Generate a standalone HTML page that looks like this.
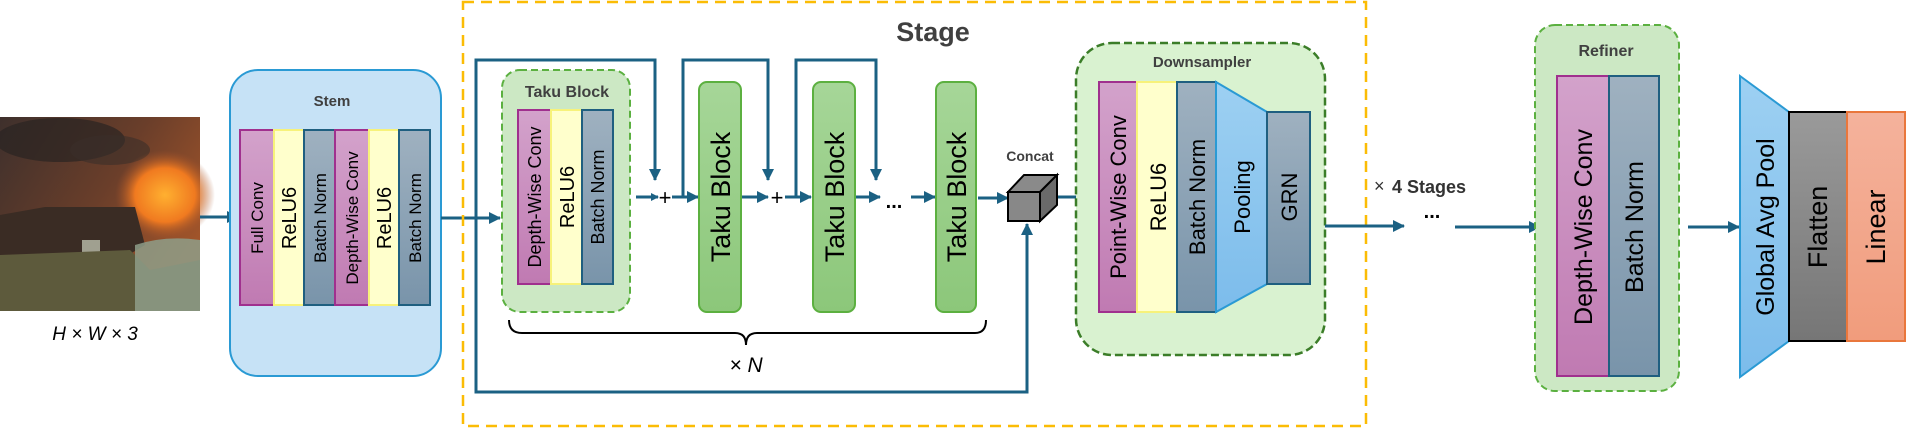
<!DOCTYPE html>
<html><head><meta charset="utf-8"><style>
html,body{margin:0;padding:0;background:#fff;}
svg{display:block;}
text{font-family:"Liberation Sans",sans-serif;}
.t{font-weight:bold;fill:#404040;}
</style></head><body>
<svg width="1908" height="430" viewBox="0 0 1908 430" xmlns="http://www.w3.org/2000/svg">
<defs>
<linearGradient id="pk" x1="0" y1="0" x2="0" y2="1"><stop offset="0" stop-color="#d3a2cb"/><stop offset="1" stop-color="#c07ab2"/></linearGradient>
<linearGradient id="bn" x1="0" y1="0" x2="0" y2="1"><stop offset="0" stop-color="#9fb1c0"/><stop offset="1" stop-color="#7994aa"/></linearGradient>
<linearGradient id="gr" x1="0" y1="0" x2="0" y2="1"><stop offset="0" stop-color="#a6d698"/><stop offset="1" stop-color="#8cc77a"/></linearGradient>
<linearGradient id="pl" x1="0" y1="0" x2="0" y2="1"><stop offset="0" stop-color="#9dd0f2"/><stop offset="1" stop-color="#7cbceb"/></linearGradient>
<linearGradient id="fl" x1="0" y1="0" x2="0" y2="1"><stop offset="0" stop-color="#9a9a9a"/><stop offset="1" stop-color="#767676"/></linearGradient>
<linearGradient id="ln" x1="0" y1="0" x2="0" y2="1"><stop offset="0" stop-color="#f4b29c"/><stop offset="1" stop-color="#f19c7c"/></linearGradient>
<linearGradient id="sky" x1="0" y1="0" x2="1" y2="0.6"><stop offset="0" stop-color="#3e302c"/><stop offset="0.55" stop-color="#6a3e2a"/><stop offset="1" stop-color="#a0542a"/></linearGradient>
<radialGradient id="fire" cx="0.5" cy="0.5" r="0.5"><stop offset="0" stop-color="#ffb030"/><stop offset="0.6" stop-color="#f07a20"/><stop offset="1" stop-color="#a0502a" stop-opacity="0"/></radialGradient>
<marker id="ar" markerWidth="8" markerHeight="8" refX="7" refY="4" orient="auto" markerUnits="userSpaceOnUse"><path d="M0,0 L8,4 L0,8 z" fill="#1b6183"/></marker>
<marker id="ar2" markerWidth="12" markerHeight="12" refX="11" refY="6" orient="auto" markerUnits="userSpaceOnUse"><path d="M0,0 L12,6 L0,12 z" fill="#1b6183"/></marker>
</defs>

<!-- photo -->
<rect x="0" y="117" width="200" height="194" fill="url(#sky)"/>
<ellipse cx="60" cy="140" rx="65" ry="22" fill="#2a2422" opacity="0.7"/>
<ellipse cx="110" cy="150" rx="40" ry="15" fill="#3a2e2a" opacity="0.6"/>
<ellipse cx="165" cy="195" rx="50" ry="45" fill="url(#fire)"/>
<path d="M0,215 L45,207 L135,207 L145,245 L120,260 L0,255 z" fill="#3a2c24"/>
<rect x="82" y="240" width="18" height="13" fill="#a0a090"/>
<path d="M0,255 L130,250 L150,270 L200,260 L200,311 L0,311 z" fill="#5d5a3c"/>
<path d="M135,245 Q165,235 200,240 L200,311 L135,311 z" fill="#8e9e88" opacity="0.85"/>
<text x="95" y="340" font-family="Liberation Serif" font-style="italic" font-size="19" text-anchor="middle" fill="#000">H × W × 3</text>
<line x1="200" y1="217" x2="238" y2="217" stroke="#1b6183" stroke-width="3" marker-end="url(#ar2)"/>

<!-- Stem -->
<rect x="230" y="70" width="211" height="306" rx="28" fill="#c6e2f6" stroke="#2a9ad4" stroke-width="2"/>
<text class="t" x="332" y="106" font-size="15" text-anchor="middle">Stem</text>
<rect x="240" y="130" width="34" height="175" fill="url(#pk)" stroke="#a0308e" stroke-width="2"/>
<rect x="274" y="130" width="30" height="175" fill="#ffffcc" stroke="#f7f27a" stroke-width="2"/>
<rect x="304" y="130" width="31" height="175" fill="url(#bn)" stroke="#1f5f80" stroke-width="2"/>
<rect x="335" y="130" width="34" height="175" fill="url(#pk)" stroke="#a0308e" stroke-width="2"/>
<rect x="369" y="130" width="30" height="175" fill="#ffffcc" stroke="#f7f27a" stroke-width="2"/>
<rect x="399" y="130" width="31" height="175" fill="url(#bn)" stroke="#1f5f80" stroke-width="2"/>
<g font-size="17" fill="#000" text-anchor="middle">
<text transform="translate(263,218) rotate(-90)">Full Conv</text>
<text transform="translate(296,218) rotate(-90)" font-size="20">ReLU6</text>
<text transform="translate(326,218) rotate(-90)">Batch Norm</text>
<text transform="translate(358,218) rotate(-90)">Depth-Wise Conv</text>
<text transform="translate(391,218) rotate(-90)" font-size="20">ReLU6</text>
<text transform="translate(421,218) rotate(-90)">Batch Norm</text>
</g>
<line x1="441" y1="218" x2="500" y2="218" stroke="#1b6183" stroke-width="3" marker-end="url(#ar2)"/>

<!-- Stage box -->
<rect x="463" y="2" width="903" height="424" fill="none" stroke="#fbbc05" stroke-width="2.5" stroke-dasharray="11,7"/>
<text class="t" x="933" y="41" font-size="27" text-anchor="middle">Stage</text>

<!-- skips -->
<g stroke="#1b6183" stroke-width="3" fill="none">
<path d="M476,218 L476,60 L655,60 L655,180" marker-end="url(#ar2)"/>
<path d="M683,197 L683,60 L768,60 L768,180" marker-end="url(#ar2)"/>
<path d="M796,197 L796,60 L876,60 L876,180" marker-end="url(#ar2)"/>
<path d="M476,218 L476,392 L1027,392 L1027,224" marker-end="url(#ar2)"/>
<line x1="636" y1="197" x2="658" y2="197" marker-end="url(#ar)"/>
<line x1="672" y1="197" x2="698" y2="197" marker-end="url(#ar2)"/>
<line x1="741" y1="197" x2="768" y2="197" marker-end="url(#ar2)"/>
<line x1="785" y1="197" x2="811" y2="197" marker-end="url(#ar2)"/>
<line x1="855" y1="197" x2="880" y2="197" marker-end="url(#ar2)"/>
<line x1="911" y1="197" x2="935" y2="197" marker-end="url(#ar2)"/>
<line x1="978" y1="198" x2="1008" y2="198" marker-end="url(#ar2)"/>
<line x1="1057" y1="197" x2="1098" y2="197" marker-end="url(#ar2)"/>
</g>
<g font-size="22" fill="#000" text-anchor="middle" font-family="Liberation Serif">
<text x="665" y="205">+</text>
<text x="777" y="205">+</text>
</g>
<text x="894" y="208" font-size="20" text-anchor="middle" font-weight="bold">...</text>

<!-- Taku block detail -->
<rect x="502" y="70" width="128" height="242" rx="18" fill="#cce8c4" stroke="#5bb040" stroke-width="2" stroke-dasharray="7,4"/>
<text class="t" x="567" y="97" font-size="16" text-anchor="middle">Taku Block</text>
<rect x="518" y="110" width="33" height="174" fill="url(#pk)" stroke="#a0308e" stroke-width="2"/>
<rect x="551" y="110" width="31" height="174" fill="#ffffcc" stroke="#f7f27a" stroke-width="2"/>
<rect x="582" y="110" width="31" height="174" fill="url(#bn)" stroke="#1f5f80" stroke-width="2"/>
<g font-size="18" fill="#000" text-anchor="middle">
<text transform="translate(541,197) rotate(-90)">Depth-Wise Conv</text>
<text transform="translate(574,197) rotate(-90)" font-size="20">ReLU6</text>
<text transform="translate(604,197) rotate(-90)">Batch Norm</text>
</g>

<!-- Taku blocks -->
<rect x="699" y="82" width="42" height="230" rx="8" fill="url(#gr)" stroke="#5cb040" stroke-width="2"/>
<rect x="813" y="82" width="42" height="230" rx="8" fill="url(#gr)" stroke="#5cb040" stroke-width="2"/>
<rect x="936" y="82" width="40" height="230" rx="8" fill="url(#gr)" stroke="#5cb040" stroke-width="2"/>
<g font-size="27" fill="#000" text-anchor="middle">
<text transform="translate(730,197) rotate(-90)">Taku Block</text>
<text transform="translate(844,197) rotate(-90)">Taku Block</text>
<text transform="translate(966,197) rotate(-90)">Taku Block</text>
</g>

<!-- brace -->
<path d="M509,320 Q509,333 522,333 L735,333 Q746,333 746,345 Q746,333 757,333 L975,333 Q986,333 986,320" fill="none" stroke="#000" stroke-width="2"/>
<text x="746" y="372" font-family="Liberation Serif" font-style="italic" font-size="21" text-anchor="middle">× N</text>

<!-- Concat cube -->
<text class="t" x="1030" y="161" font-size="14" text-anchor="middle">Concat</text>
<path d="M1024,175 L1057,175 L1057,205 L1040,221" fill="#666" stroke="#000" stroke-width="1.5" stroke-dasharray="3,2"/>
<path d="M1008,192 L1024,175 L1057,175 L1040,192 z" fill="#8a8a8a" stroke="#000" stroke-width="2"/>
<path d="M1040,192 L1057,175 L1057,205 L1040,221 z" fill="#6a6a6a" stroke="#000" stroke-width="2"/>
<rect x="1008" y="192" width="32" height="29" fill="#888" stroke="#000" stroke-width="2"/>

<!-- Downsampler -->
<rect x="1076" y="43" width="249" height="312" rx="36" fill="#d9f2d0" stroke="#3b7d28" stroke-width="2.5" stroke-dasharray="8,4"/>
<text class="t" x="1202" y="67" font-size="15" text-anchor="middle">Downsampler</text>
<rect x="1099" y="82" width="38" height="230" fill="url(#pk)" stroke="#a0308e" stroke-width="2"/>
<rect x="1137" y="82" width="40" height="230" fill="#ffffcc" stroke="#f7f27a" stroke-width="2"/>
<rect x="1177" y="82" width="39" height="230" fill="url(#bn)" stroke="#1f5f80" stroke-width="2"/>
<path d="M1216,82 L1267,112 L1267,284 L1216,312 z" fill="url(#pl)" stroke="#2a9ad4" stroke-width="2"/>
<rect x="1267" y="112" width="43" height="172" fill="url(#bn)" stroke="#1f5f80" stroke-width="2"/>
<g font-size="22" fill="#000" text-anchor="middle">
<text transform="translate(1126,197) rotate(-90)">Point-Wise Conv</text>
<text transform="translate(1166,197) rotate(-90)">ReLU6</text>
<text transform="translate(1205,197) rotate(-90)">Batch Norm</text>
<text transform="translate(1250,197) rotate(-90)">Pooling</text>
<text transform="translate(1297,197) rotate(-90)">GRN</text>
</g>

<!-- x4 stages -->
<text x="1374" y="192" font-size="18" fill="#333" font-family="Liberation Serif">×</text>
<text x="1392" y="193" font-size="18" fill="#333" font-weight="bold">4 Stages</text>
<line x1="1325" y1="226" x2="1404" y2="226" stroke="#1b6183" stroke-width="3" marker-end="url(#ar2)"/>
<text x="1432" y="218" font-size="20" text-anchor="middle" font-weight="bold">...</text>
<line x1="1455" y1="227" x2="1540" y2="227" stroke="#1b6183" stroke-width="3" marker-end="url(#ar2)"/>

<!-- Refiner -->
<rect x="1535" y="25" width="144" height="366" rx="20" fill="#cce8c4" stroke="#5bb040" stroke-width="2" stroke-dasharray="7,4"/>
<text class="t" x="1606" y="56" font-size="16" text-anchor="middle">Refiner</text>
<rect x="1557" y="76" width="52" height="300" fill="url(#pk)" stroke="#a0308e" stroke-width="2"/>
<rect x="1609" y="76" width="50" height="300" fill="url(#bn)" stroke="#1f5f80" stroke-width="2"/>
<g font-size="25" fill="#000" text-anchor="middle">
<text transform="translate(1592,227) rotate(-90)">Depth-Wise Conv</text>
<text transform="translate(1643,227) rotate(-90)">Batch Norm</text>
</g>
<line x1="1688" y1="227" x2="1739" y2="227" stroke="#1b6183" stroke-width="3" marker-end="url(#ar2)"/>

<!-- head -->
<path d="M1740,76 L1789,112 L1789,341 L1740,377 z" fill="url(#pl)" stroke="#2a9ad4" stroke-width="2"/>
<rect x="1789" y="112" width="58" height="229" fill="url(#fl)" stroke="#000" stroke-width="2"/>
<rect x="1847" y="112" width="58" height="229" fill="url(#ln)" stroke="#e9773c" stroke-width="2"/>
<g font-size="25" fill="#000" text-anchor="middle">
<text transform="translate(1774,227) rotate(-90)">Global Avg Pool</text>
<text transform="translate(1827,227) rotate(-90)" font-size="27">Flatten</text>
<text transform="translate(1885,227) rotate(-90)" font-size="27">Linear</text>
</g>
</svg>
</body></html>
